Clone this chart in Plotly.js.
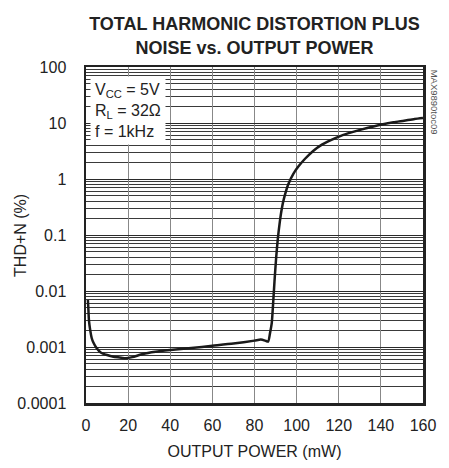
<!DOCTYPE html>
<html>
<head>
<meta charset="utf-8">
<script src="https://cdn.plot.ly/plotly-3.0.1.min.js"></script>
<style>html,body{margin:0;padding:0;background:#fff;}#chart{width:449px;height:468px;}</style>
</head>
<body>
<div id="chart"></div>
<script>
const outputPower = [0.9, 1.1, 1.4, 2, 2.7, 3.5, 5, 7, 10, 13, 16, 19, 22, 27, 33, 40, 50, 60, 70, 80, 83, 85.5, 86.5, 87.4, 88.2, 89, 89.5, 90.3, 91, 92, 93, 94, 96, 98.5, 101, 104, 108, 112, 116, 121, 126, 131, 136, 141, 146, 151, 156, 160];
const thdN = [0.0069, 0.005, 0.003, 0.002, 0.00145, 0.0012, 0.00096, 0.0008, 0.00072, 0.00067, 0.00065, 0.00063, 0.00066, 0.00075, 0.00082, 0.00088, 0.00096, 0.00105, 0.00115, 0.0013, 0.00136, 0.00128, 0.00125, 0.0018, 0.0027, 0.0075, 0.015, 0.04, 0.08, 0.17, 0.3, 0.45, 0.8, 1.25, 1.7, 2.3, 3.2, 4.1, 4.9, 5.9, 6.8, 7.7, 8.6, 9.5, 10.3, 11.0, 11.8, 12.3];
const yTickVals = [0.0001, 0.001, 0.01, 0.1, 1, 10, 100];
const yTickText = ["0.0001", "0.001", "0.01", "0.1", "1", "10", "100"];
const xTickVals = [0, 20, 40, 60, 80, 100, 120, 140, 160];

const FONT = '"Liberation Sans", Arial, sans-serif';

const trace = {
  x: outputPower, y: thdN, type: 'scatter', mode: 'lines',
  line: {color: '#1a1a1a', width: 2.5, shape: 'spline', smoothing: 0.6},
  hoverinfo: 'skip'
};

const layout = {
  width: 449, height: 468,
  margin: {l: 86, r: 26, t: 67, b: 65},
  paper_bgcolor: '#fff', plot_bgcolor: '#fff',
  showlegend: false,
  font: {family: FONT, color: '#222', size: 16},
  title: {
    text: '<b>TOTAL HARMONIC DISTORTION PLUS<br>NOISE vs. OUTPUT POWER</b>',
    xref: 'paper', x: 0.5, xanchor: 'center',
    yref: 'container', y: 0.935, yanchor: 'middle',
    font: {family: FONT, size: 18, color: '#222'}
  },
  xaxis: {
    range: [0, 160], tickvals: xTickVals, ticks: '',
    showgrid: true, gridcolor: '#888', gridwidth: 1,
    showline: true, mirror: true, linecolor: '#222', linewidth: 2.5,
    zeroline: false, ticklabelstandoff: 6,
    tickfont: {family: FONT, size: 16, color: '#222'},
    title: {text: 'OUTPUT POWER (mW)', font: {family: FONT, size: 16, color: '#222'}, standoff: 13}
  },
  yaxis: {
    type: 'log', range: [-4, 2], tickvals: yTickVals, ticktext: yTickText, ticks: '',
    showgrid: true, gridcolor: '#2a2a2a', gridwidth: 1,
    minor: {dtick: 'D1', showgrid: true, gridcolor: '#3a3a3a', gridwidth: 1, ticks: ''},
    showline: true, mirror: true, linecolor: '#222', linewidth: 2.5,
    zeroline: false, ticklabelstandoff: 14,
    tickfont: {family: FONT, size: 16, color: '#222'}
  },
  annotations: [
    {
      xref: 'paper', yref: 'paper', x: -0.196, y: 0.5, xanchor: 'center', yanchor: 'middle',
      textangle: -90, showarrow: false, text: 'THD+N (%)',
      font: {family: FONT, size: 16, color: '#222'}
    },
    {
      xref: 'paper', yref: 'paper', x: 0.012, y: 0.972, xanchor: 'left', yanchor: 'top',
      align: 'left', showarrow: false, bgcolor: '#fff', borderpad: 4,
      text: 'V<sub>CC</sub> = 5V<br>R<sub>L</sub> = 32Ω<br>f = 1kHz',
      font: {family: FONT, size: 16, color: '#222'}
    },
    {
      xref: 'paper', yref: 'paper', x: 1.013, y: 0.997, xanchor: 'left', yanchor: 'top',
      textangle: 90, showarrow: false, text: 'MAX9890toc09',
      font: {family: FONT, size: 9.5, color: '#555'}
    }
  ]
};

Plotly.newPlot('chart', [trace], layout, {displayModeBar: false, staticPlot: true});
</script>
</body>
</html>
